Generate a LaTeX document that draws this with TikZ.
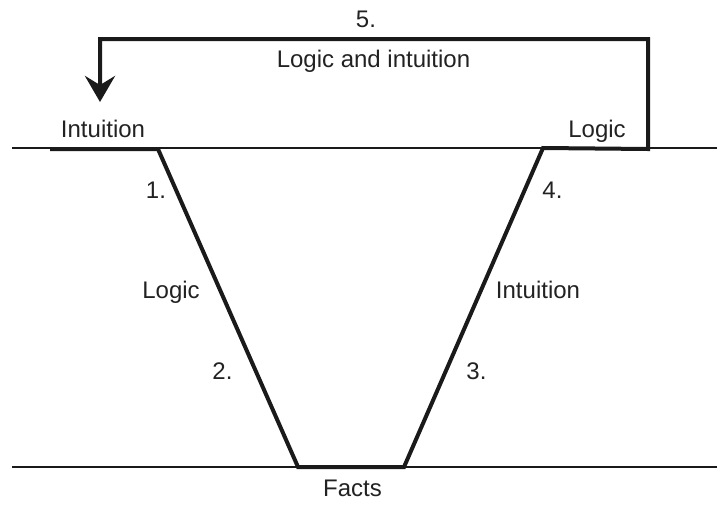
\documentclass[tikz,border=0pt]{standalone}
\usepackage{fontspec}
\setmainfont{Liberation Sans}
\usetikzlibrary{arrows.meta}
\definecolor{ink}{HTML}{1A1A1A}
\definecolor{txt}{HTML}{222222}
\begin{document}
\begin{tikzpicture}[x=1pt,y=-1pt,
  lbl/.style={anchor=base,inner sep=0pt,text=txt,font=\fontsize{24}{28}\selectfont},
  thickline/.style={draw=ink,line width=4pt,line join=miter},
  thinline/.style={draw=ink,line width=1.2pt}]
\useasboundingbox (0,0) rectangle (717,504);
% reference lines
\coordinate (tl) at (12,148);
\coordinate (tr) at (717,148);
\coordinate (bl) at (12,467);
\coordinate (br) at (717,467);
\draw[thinline] (tl) -- (tr);
\draw[thinline] (bl) -- (br);
% main path vertices
\coordinate (a) at (50,149);
\coordinate (b) at (158,149);
\coordinate (c) at (298,467);
\coordinate (d) at (404,467);
\coordinate (e) at (543,148);
\coordinate (f) at (648,149);
\coordinate (g) at (648,39);
\coordinate (h) at (100,39);
\coordinate (tip) at (100,102);
\draw[thickline] (a) -- (b) -- (c) -- (d) -- (e) -- (f) -- (g) -- (h)
  -- (tip) [arrows={-Stealth[length=26pt,width=30pt,inset=9pt]}];
% labels
\node[lbl] (n5) at (366,27) {5.};
\node[lbl] (li) at (373.5,67) {Logic and intuition};
\node[lbl] (intl) at (103,137) {Intuition};
\node[lbl] (logr) at (597,137) {Logic};
\node[lbl] (n1) at (156,198) {1.};
\node[lbl] (logl) at (171,298) {Logic};
\node[lbl] (n2) at (222.5,379) {2.};
\node[lbl] (n4) at (552.5,198) {4.};
\node[lbl] (intr) at (538,298) {Intuition};
\node[lbl] (n3) at (476.5,379) {3.};
\node[lbl] (facts) at (352.5,496) {Facts};
\end{tikzpicture}
\end{document}
